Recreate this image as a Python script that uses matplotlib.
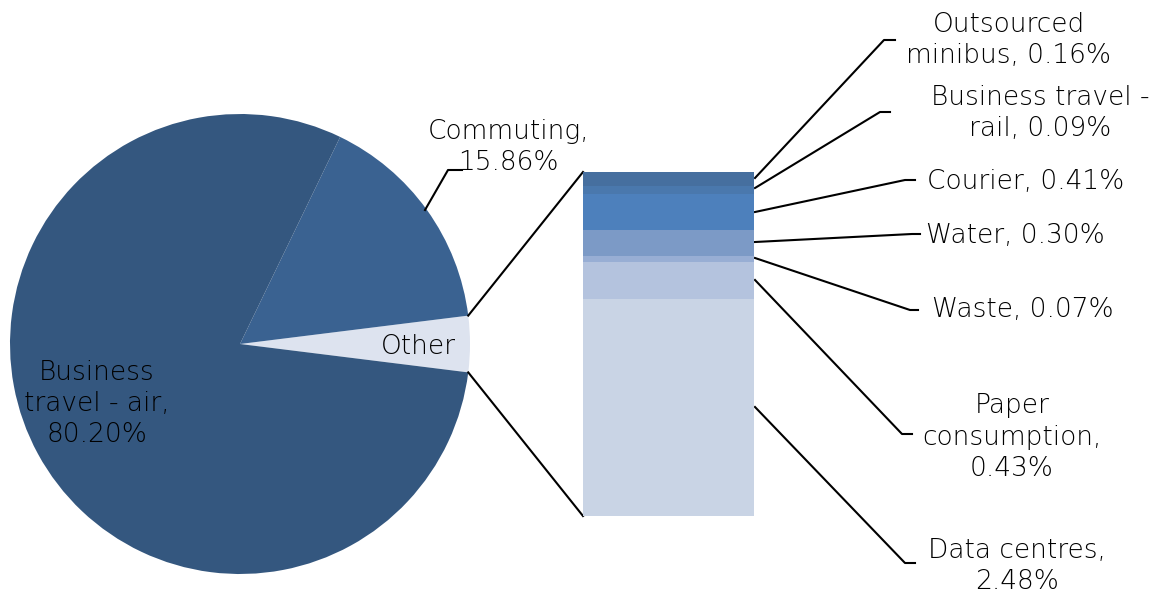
import numpy as np
import matplotlib.pyplot as plt

# Emissions share by source (%)
pie_labels = ["Other", "Commuting", "Business travel - air"]
pie_values = [3.94, 15.86, 80.20]
pie_colors = ["#dde3ef", "#3a6291", "#34577f"]

# Breakdown of "Other", top of the bar first
other_labels = ["Outsourced\nminibus, 0.16%", "Business travel -\nrail, 0.09%",
                "Courier, 0.41%", "Water, 0.30%", "Waste, 0.07%",
                "Paper\nconsumption,\n0.43%", "Data centres,\n2.48%"]
other_values = [0.16, 0.09, 0.41, 0.30, 0.07, 0.43, 2.48]
other_colors = ["#466f9f", "#4a78ad", "#4d80bc", "#7c9ac6", "#98aed4", "#b4c3de", "#c9d4e5"]

W, H = 1166, 594
plt.rcParams['font.family'] = ['DejaVu Sans']
fig = plt.figure(figsize=(W / 100, H / 100), dpi=100)
ax = fig.add_axes([0, 0, 1, 1])

txt = dict(fontsize=19, color='black', linespacing=1.3, fontweight='light',
           ha='center', va='center')

# pie, "Other" slice centred on the right
cx, cy, r = 240, H - 344, 230
start = -pie_values[0] / 100 * 360 / 2
ax.pie(pie_values, colors=pie_colors, startangle=start, counterclock=True,
       center=(cx, cy), radius=r, wedgeprops=dict(linewidth=0), frame=True)
ax.set_xlim(0, W)
ax.set_ylim(0, H)
ax.set_aspect('equal')
ax.axis('off')

ax.text(97, H - 403, "Business\ntravel - air,\n80.20%", **txt)
ax.text(418, H - 347, "Other", **txt)
ax.text(508, H - 147, "Commuting,\n15.86%", **txt)
ax.plot([425, 448, 462], [H - 210, H - 170, H - 170], color='black', lw=1.5)

# stacked bar for the breakdown
bx0, by0, bw, bh = 583, 516, 171, 344
bax = fig.add_axes([bx0 / W, (H - by0) / H, bw / W, bh / H])
total = sum(other_values)
bottoms = total - np.cumsum(other_values)
bax.bar(0, other_values, bottom=bottoms, width=1, color=other_colors, linewidth=0)
bax.set_xlim(-0.5, 0.5)
bax.set_ylim(0, total)
bax.axis('off')

# connectors pie -> bar
ang = np.deg2rad(-start)
ax.plot([cx + r * np.cos(ang), bx0], [cy + r * np.sin(ang), H - 172], color='black', lw=1.5)
ax.plot([cx + r * np.cos(ang), bx0], [cy - r * np.sin(ang), H - by0], color='black', lw=1.5)

# leader lines and labels
leaders = [((755, 178), (884, 40), (895, 40)),
           ((755, 188), (880, 112), (890, 112)),
           ((755, 212), (905, 180), (915, 180)),
           ((755, 242), (912, 234), (920, 234)),
           ((755, 258), (910, 310), (918, 310)),
           ((755, 280), (902, 434), (912, 434)),
           ((755, 407), (905, 563), (915, 563))]
label_pos = [(1009, 40), (1040, 113), (1026, 181), (1015, 236),
             (1023, 310), (1012, 437), (1017, 566)]
for pts, (lx, ly), lab in zip(leaders, label_pos, other_labels):
    xs = [p[0] for p in pts]
    ys = [H - p[1] for p in pts]
    ax.plot(xs, ys, color='black', lw=1.5)
    ax.text(lx, H - ly, lab, **txt)

fig.savefig('out.png', dpi=100)
